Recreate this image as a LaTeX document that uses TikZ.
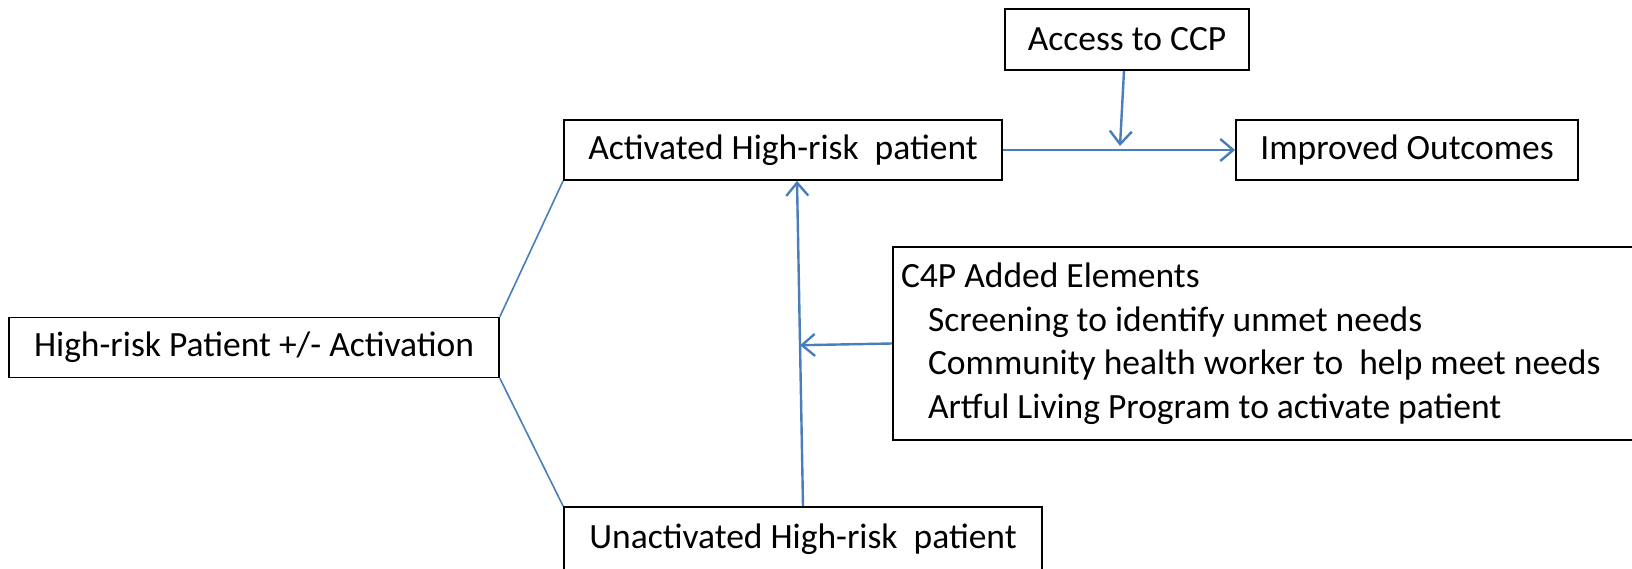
\documentclass[tikz,border=0pt]{standalone}
\usepackage{fontspec}
\setmainfont{Carlito}
\usetikzlibrary{arrows.meta,calc}
\definecolor{linkblue}{HTML}{4A7EBB}
\begin{document}
\begin{tikzpicture}[x=1pt,y=-1pt,
  box/.style={draw=black, line width=1.8pt, rectangle, inner sep=0pt,
    font=\fontsize{35.5}{43.5}\selectfont},
  link/.style={draw=linkblue, line width=1.6pt},
  flow/.style={draw=linkblue, line width=2.4pt,
    -{Straight Barb[length=13pt,width=22pt,line width=2.4pt]}}]
\useasboundingbox (0,0) rectangle (1632,569);

% boxes
\node[box, minimum width=490, minimum height=60] (hr) at (254,347.5) {High-risk Patient +/- Activation};
\node[box, minimum width=438, minimum height=60] (act) at (783,150) {Activated High-risk\ \ patient};
\node[box, minimum width=478, minimum height=64] (unact) at (803,539) {Unactivated High-risk\ \ patient};
\node[box, minimum width=244, minimum height=61] (ccp) at (1127,39.5) {Access to CCP};
\node[box, minimum width=342, minimum height=60] (out) at (1407,150) {Improved Outcomes};
\node[box, minimum width=760, minimum height=193, text width=744, align=flush left,
  inner xsep=8pt] (c4p) at (1273,343.5)
  {C4P Added Elements\\
   \hspace*{27pt}Screening to identify unmet needs\\
   \hspace*{27pt}Community health worker to\ \ help meet needs\\
   \hspace*{27pt}Artful Living Program to activate patient};

% split into activated / unactivated
\draw[link] (hr.north east) -- (act.south west);
\draw[link] (hr.south east) -- (unact.north west);

% activation path
\coordinate (vbot) at (803,0 |- unact.north);
\coordinate (vtop) at (797,0 |- act.south);
\draw[flow] (vbot) -- (vtop);
\coordinate (vmid) at ($(vbot)!(c4p.west)!(vtop)$);
\draw[flow] (c4p.west) -- (vmid);

% outcome path
\draw[flow] (act.east) -- (out.west);
\coordinate (join) at ($(act.east)!(ccp.south)!(out.west)$);
\draw[flow] ($(ccp.south)+(-3,0)$) -- ($(join)+(-7,-4)$);
\end{tikzpicture}
\end{document}
